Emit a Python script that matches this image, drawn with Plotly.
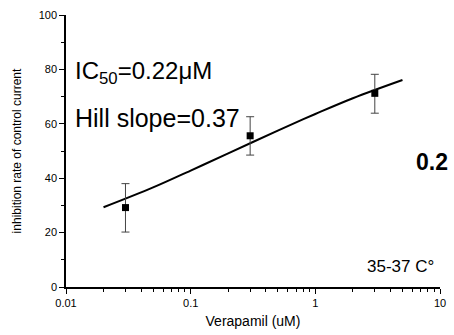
import plotly.graph_objects as go

# Data points (Verapamil concentration, uM) and inhibition (%)
conc = [0.03, 0.3, 3.0]
inhib = [29.2, 55.6, 71.2]
err_plus = [8.8, 7.0, 7.0]
err_minus = [9.0, 7.1, 7.3]

# Fitted curve
fit_x = [0.02, 0.05, 0.1, 0.2, 0.5, 1.0, 2.0, 5.0]
fit_y = [29.3, 36.6, 42.8, 49.1, 57.5, 63.6, 69.4, 76.1]

x_ticks = [0.01, 0.1, 1, 10]
x_tick_labels = ["0.01", "0.1", "1", "10"]
x_minor = [m * d for d in [0.01, 0.1, 1] for m in range(2, 10)]
y_ticks = [0, 20, 40, 60, 80, 100]
y_minor = [10, 30, 50, 70, 90]

font = "Liberation Sans, Arial, sans-serif"

fig = go.Figure()
fig.add_trace(go.Scatter(x=fit_x, y=fit_y, mode="lines", line=dict(color="black", width=2, shape="spline"),
                         hoverinfo="skip", showlegend=False))
fig.add_trace(go.Scatter(x=conc, y=inhib, mode="markers",
                         marker=dict(symbol="square", size=7, color="black"),
                         error_y=dict(type="data", array=err_plus, arrayminus=err_minus, symmetric=False,
                                      color="#444", thickness=1, width=4),
                         showlegend=False))

fig.update_layout(
    width=454, height=335,
    margin=dict(l=66, r=8, t=15, b=46),
    paper_bgcolor="white", plot_bgcolor="white",
    font=dict(family=font, size=11, color="black"),
    xaxis=dict(type="log", range=[-2, 1], tickvals=x_ticks, ticktext=x_tick_labels,
               showline=True, linecolor="black", linewidth=1.5, ticks="outside", ticklen=5,
               tickcolor="black", showgrid=False, zeroline=False,
               minor=dict(tickvals=x_minor, ticks="outside", ticklen=3, tickcolor="black", showgrid=False),
               title=dict(text="Verapamil (uM)", font=dict(size=14), standoff=8)),
    yaxis=dict(range=[0, 100], tickvals=y_ticks, showline=True, linecolor="black", linewidth=1.5,
               ticks="outside", ticklen=5, tickcolor="black", showgrid=False, zeroline=False,
               minor=dict(tickvals=y_minor, ticks="outside", ticklen=3, tickcolor="black", showgrid=False),
               title=dict(text="inhibition rate of control current", font=dict(size=12), standoff=14)),
    annotations=[
        dict(text="IC<sub>50</sub>=0.22μM", x=0.018, y=0.79, xref="paper", yref="paper", showarrow=False,
             font=dict(size=24), xanchor="left", yanchor="middle"),
        dict(text="Hill slope=0.37", x=0.018, y=0.62, xref="paper", yref="paper", showarrow=False,
             font=dict(size=25), xanchor="left", yanchor="middle"),
        dict(text="<b>0.2</b>", x=0.93, y=0.46, xref="paper", yref="paper", showarrow=False,
             font=dict(size=23), xanchor="left", yanchor="middle"),
        dict(text="35-37 C°", x=0.99, y=0.075, xref="paper", yref="paper", showarrow=False,
             font=dict(size=17), xanchor="right", yanchor="middle"),
    ],
)
fig.write_html("out.html")
